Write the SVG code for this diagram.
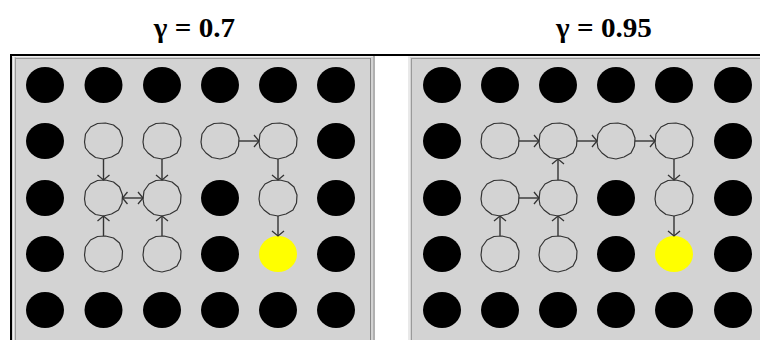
<svg xmlns="http://www.w3.org/2000/svg" xmlns:xlink="http://www.w3.org/1999/xlink" width="760" height="340" viewBox="0 0 760 340">
<style>
.wall{fill:#000}
.goal{fill:#ffff00}
.open{fill:none;stroke:#333;stroke-width:1.2;stroke-linejoin:round}
.conn line{stroke:#333;stroke-width:1.4}
.panel{fill:#d3d3d3}
</style>
<defs>
<path id="oc" d="M -19,1 L -18,-7 L -13,-14 L -6,-17.5 L 2,-18 L 10,-16 L 16,-11 L 19,-3 L 18.5,5 L 15,12 L 8,16 L 0,18 L -8,16.5 L -14,12 L -18,7 Z"/>
<ellipse id="bd" rx="19" ry="18"/>
<marker id="ah" viewBox="-7 -7 8 14" refX="0" refY="0" markerWidth="8" markerHeight="14" markerUnits="userSpaceOnUse" orient="auto-start-reverse">
<path d="M -5,-6 L 0,0 L -5,6" fill="none" stroke="#333" stroke-width="1.3"/>
</marker>
</defs>
<rect width="760" height="340" fill="#fff"/>
<g id="titles" font-family="'Liberation Serif', 'Times New Roman', serif" font-weight="bold" font-size="27" fill="#000">
<text transform="translate(194.5,37) scale(1.08,1)" text-anchor="middle">γ = 0.7</text>
<text transform="translate(604,37) scale(1.08,1)" text-anchor="middle">γ = 0.95</text>
</g>
<!-- panels -->
<rect class="panel" x="12" y="56" width="363" height="284"/>
<line x1="15.5" y1="57.5" x2="15.5" y2="340" stroke="#9a9a9a" stroke-width="1"/>
<line x1="13.5" y1="57" x2="13.5" y2="340" stroke="#f0f0f0" stroke-width="1"/>
<line x1="15" y1="58.5" x2="370" y2="58.5" stroke="#9a9a9a" stroke-width="1"/>
<line x1="12" y1="56.5" x2="375" y2="56.5" stroke="#f0f0f0" stroke-width="1"/>
<line x1="370.5" y1="58" x2="370.5" y2="340" stroke="#8a8a8a" stroke-width="1"/>
<line x1="374" y1="56" x2="374" y2="340" stroke="#b0b0b0" stroke-width="2"/>
<rect class="panel" x="408" y="56" width="352" height="284"/>
<line x1="409" y1="56" x2="409" y2="340" stroke="#f0f0f0" stroke-width="1.5"/>
<line x1="411.5" y1="58" x2="411.5" y2="340" stroke="#9a9a9a" stroke-width="1"/>
<line x1="408" y1="56.5" x2="760" y2="56.5" stroke="#f0f0f0" stroke-width="1"/>
<line x1="411" y1="58.5" x2="760" y2="58.5" stroke="#9a9a9a" stroke-width="1"/>
<line x1="10" y1="55" x2="760" y2="55" stroke="#000" stroke-width="2"/>
<line x1="11" y1="54" x2="11" y2="340" stroke="#000" stroke-width="2"/>

<!-- LEFT GRID -->
<g id="L-walls" class="wall">
<use href="#bd" x="45" y="85"/><use href="#bd" x="103.5" y="85"/><use href="#bd" x="162" y="85"/><use href="#bd" x="220" y="85"/><use href="#bd" x="278" y="85"/><use href="#bd" x="336" y="85"/>
<use href="#bd" x="45" y="141"/><use href="#bd" x="336" y="141"/>
<use href="#bd" x="45" y="198"/><use href="#bd" x="220" y="198"/><use href="#bd" x="336" y="198"/>
<use href="#bd" x="45" y="254"/><use href="#bd" x="220" y="254"/><use href="#bd" x="336" y="254"/>
<use href="#bd" x="45" y="310"/><use href="#bd" x="103.5" y="310"/><use href="#bd" x="162" y="310"/><use href="#bd" x="220" y="310"/><use href="#bd" x="278" y="310"/><use href="#bd" x="336" y="310"/>
</g>
<g id="L-r1c1" class="open"><use href="#oc" x="103.5" y="141"/></g>
<g id="L-r1c2" class="open"><use href="#oc" x="162" y="141"/></g>
<g id="L-r1c3" class="open"><use href="#oc" x="220" y="141"/></g>
<g id="L-r1c4" class="open"><use href="#oc" x="278" y="141"/></g>
<g id="L-r2c1" class="open"><use href="#oc" x="103.5" y="198"/></g>
<g id="L-r2c2" class="open"><use href="#oc" x="162" y="198"/></g>
<g id="L-r2c4" class="open"><use href="#oc" x="278" y="198"/></g>
<g id="L-r3c1" class="open"><use href="#oc" x="103.5" y="254"/></g>
<g id="L-r3c2" class="open"><use href="#oc" x="162" y="254"/></g>
<g id="L-goal" class="goal"><use href="#bd" x="278" y="254"/></g>

<!-- RIGHT GRID -->
<g id="R-walls" class="wall">
<use href="#bd" x="442" y="85"/><use href="#bd" x="500" y="85"/><use href="#bd" x="558" y="85"/><use href="#bd" x="616" y="85"/><use href="#bd" x="674" y="85"/><use href="#bd" x="733" y="85"/>
<use href="#bd" x="442" y="141"/><use href="#bd" x="733" y="141"/>
<use href="#bd" x="442" y="198"/><use href="#bd" x="616" y="198"/><use href="#bd" x="733" y="198"/>
<use href="#bd" x="442" y="254"/><use href="#bd" x="616" y="254"/><use href="#bd" x="733" y="254"/>
<use href="#bd" x="442" y="310"/><use href="#bd" x="500" y="310"/><use href="#bd" x="558" y="310"/><use href="#bd" x="616" y="310"/><use href="#bd" x="674" y="310"/><use href="#bd" x="733" y="310"/>
</g>
<g id="R-r1c1" class="open"><use href="#oc" x="500" y="141"/></g>
<g id="R-r1c2" class="open"><use href="#oc" x="558" y="141"/></g>
<g id="R-r1c3" class="open"><use href="#oc" x="616" y="141"/></g>
<g id="R-r1c4" class="open"><use href="#oc" x="674" y="141"/></g>
<g id="R-r2c1" class="open"><use href="#oc" x="500" y="198"/></g>
<g id="R-r2c2" class="open"><use href="#oc" x="558" y="198"/></g>
<g id="R-r2c4" class="open"><use href="#oc" x="674" y="198"/></g>
<g id="R-r3c1" class="open"><use href="#oc" x="500" y="254"/></g>
<g id="R-r3c2" class="open"><use href="#oc" x="558" y="254"/></g>
<g id="R-goal" class="goal"><use href="#bd" x="674" y="254"/></g>

<g id="connectors" class="conn">
<line x1="103.5" y1="159" x2="103.5" y2="180" marker-end="url(#ah)"/>
<line x1="162" y1="159" x2="162" y2="180" marker-end="url(#ah)"/>
<line x1="239" y1="141" x2="259" y2="141" marker-end="url(#ah)"/>
<line x1="278" y1="159" x2="278" y2="180" marker-end="url(#ah)"/>
<line x1="122.5" y1="198" x2="143" y2="198" marker-start="url(#ah)" marker-end="url(#ah)"/>
<line x1="103.5" y1="236" x2="103.5" y2="216" marker-end="url(#ah)"/>
<line x1="162" y1="236" x2="162" y2="216" marker-end="url(#ah)"/>
<line x1="278" y1="216" x2="278" y2="236" marker-end="url(#ah)"/>

<line x1="519" y1="141" x2="539" y2="141" marker-end="url(#ah)"/>
<line x1="577" y1="141" x2="597" y2="141" marker-end="url(#ah)"/>
<line x1="635" y1="141" x2="655" y2="141" marker-end="url(#ah)"/>
<line x1="674" y1="159" x2="674" y2="180" marker-end="url(#ah)"/>
<line x1="519" y1="198" x2="539" y2="198" marker-end="url(#ah)"/>
<line x1="558" y1="180" x2="558" y2="159" marker-end="url(#ah)"/>
<line x1="500" y1="236" x2="500" y2="216" marker-end="url(#ah)"/>
<line x1="558" y1="236" x2="558" y2="216" marker-end="url(#ah)"/>
<line x1="674" y1="216" x2="674" y2="236" marker-end="url(#ah)"/>
</g>
</svg>
